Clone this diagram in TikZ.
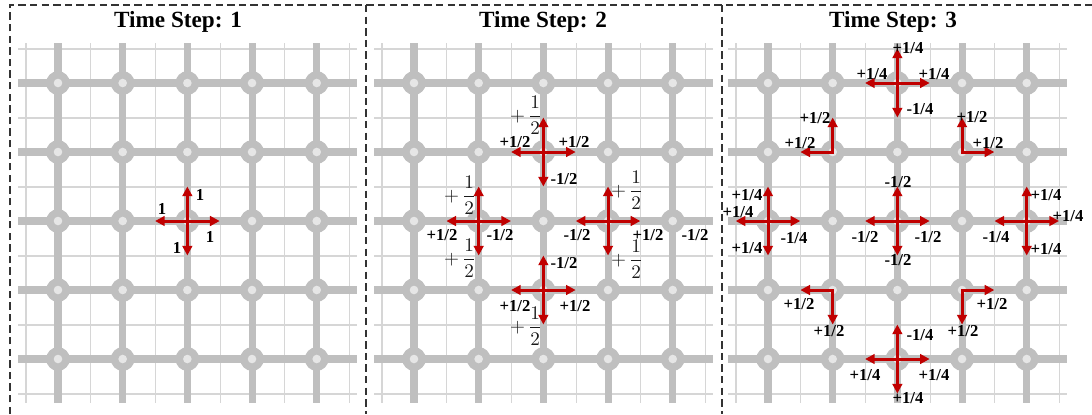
\documentclass[tikz,border=0pt]{standalone}
\usepackage{amsmath}
\usepackage{fontspec}
\setmainfont{Liberation Serif}
\usepackage{xcolor}
\usepackage{tikz}
\usetikzlibrary{arrows.meta,calc}

\definecolor{gridgray}{HTML}{BFBFBF}
\definecolor{finegray}{HTML}{D6D6D6}
\definecolor{dotgray}{HTML}{E6E6E6}
\definecolor{flowred}{HTML}{C00000}
\definecolor{fracgray}{HTML}{1A1A1A}

\newcommand{\halfx}{32.3}
\newcommand{\halfy}{34.5}

\tikzset{
  fine line/.style={finegray, line width=0.6pt},
  bold line/.style={gridgray, line width=4pt},
  junc/.style={circle, fill=gridgray, minimum size=13.5pt, inner sep=0pt,
    path picture={\fill[dotgray] (path picture bounding box.center) circle (2.45pt);}},
  flow/.style={flowred, line width=1.7pt, -{Triangle[length=5.5pt,width=5.5pt]}},
  flowtwo/.style={flowred, line width=1.7pt,
    {Triangle[length=5.5pt,width=5.5pt]}-{Triangle[length=5.5pt,width=5.5pt]}},
  lbl/.style={inner sep=0pt, font=\fontsize{9.5}{11}\selectfont\bfseries},
  fraclbl/.style={inner sep=0pt, text=fracgray, font=\fontsize{10.5}{12}\selectfont},
  title/.style={inner sep=0pt, font=\fontsize{13.2}{16}\selectfont\bfseries},
  frame/.style={black!80, line width=0.6pt, dash pattern=on 4.2pt off 2.4pt}
}

% lattice of one panel, junctions named #1<col><row>
\newcommand{\panelgrid}[1]{%
  \foreach \k in {0,...,10} {
    \draw[fine line] ({26+\k*32.34},43) -- ({26+\k*32.34},403);
    \draw[fine line] (18,{49+\k*34.5}) -- (357,{49+\k*34.5});
  }
  \foreach \k in {0,...,4} {
    \draw[bold line] ({58+\k*64.68},43) -- ({58+\k*64.68},403);
    \draw[bold line] (18,{83+\k*69}) -- (357,{83+\k*69});
  }
  \foreach \c in {1,...,5}
    \foreach \r in {1,...,5}
      \node[junc] (#1\c\r) at ({58+(\c-1)*64.68},{83+(\r-1)*69}) {};
}

% four arrows out of one junction
\newcommand{\spread}[1]{%
  \draw[flow] (#1.center) -- ++(0,-\halfy);
  \draw[flow] (#1.center) -- ++(0,\halfy);
  \draw[flow] (#1.center) -- ++(-\halfx,0);
  \draw[flow] (#1.center) -- ++(\halfx,0);
}

\begin{document}
\begin{tikzpicture}[x=0.02cm, y=-0.02cm]
  \useasboundingbox (0,0) rectangle (1092,414);
  % panel frames
  \draw[frame] (10,414) -- (10,5) -- (1092,5);
  \draw[frame] (366,5) -- (366,414);
  \draw[frame] (722,5) -- (722,414);

  % Time step 1
  \begin{scope}
    \panelgrid{a}
    \node[title] (t1) at (178,22) {Time Step: 1};
    \spread{a33}
    \node[lbl] (a1) at (200,195) {1};
    \node[lbl] (a2) at (162,209) {1};
    \node[lbl] (a3) at (210,237) {1};
    \node[lbl] (a4) at (177,248) {1};
  \end{scope}

  % Time step 2
  \begin{scope}[shift={(356,0)}]
    \panelgrid{b}
    \node[title] (t2) at (187,22) {Time Step: 2};
    \spread{b32}
    \spread{b23}
    \spread{b43}
    \spread{b34}
    % top
    \node[fraclbl] (b1) at (170,115) {$+\,\dfrac{1}{2}$};
    \node[lbl] (b2) at (159,142) {+1/2};
    \node[lbl] (b3) at (218,142) {+1/2};
    \node[lbl] (b4) at (208,179) {-1/2};
    % left
    \node[fraclbl] (b5) at (104,195) {$+\,\dfrac{1}{2}$};
    \node[lbl] (b6) at (86,235) {+1/2};
    \node[lbl] (b7) at (144,235) {-1/2};
    \node[fraclbl] (b8) at (104,258) {$+\,\dfrac{1}{2}$};
    % right
    \node[fraclbl] (b9) at (271,190) {$+\,\dfrac{1}{2}$};
    \node[lbl] (b10) at (221,235) {-1/2};
    \node[lbl] (b11) at (292,235) {+1/2};
    \node[fraclbl] (b12) at (271,259) {$+\,\dfrac{1}{2}$};
    \node[lbl] (b13) at (339,235) {-1/2};
    % bottom
    \node[lbl] (b14) at (208,263) {-1/2};
    \node[lbl] (b15) at (159,306) {+1/2};
    \node[lbl] (b16) at (219,306) {+1/2};
    \node[fraclbl] (b17) at (170,326) {$+\,\dfrac{1}{2}$};
  \end{scope}

  % Time step 3
  \begin{scope}[shift={(710,0)}]
    \panelgrid{c}
    \node[title] (t3) at (183,22) {Time Step: 3};
    \spread{c31}
    \spread{c13}
    \spread{c33}
    \spread{c53}
    \spread{c35}
    \draw[flowtwo] ($(c22)+(-\halfx,0)$) -- (c22.center) -- ($(c22)+(0,-\halfy)$);
    \draw[flowtwo] ($(c42)+(0,-\halfy)$) -- (c42.center) -- ($(c42)+(\halfx,0)$);
    \draw[flowtwo] ($(c24)+(-\halfx,0)$) -- (c24.center) -- ($(c24)+(0,\halfy)$);
    \draw[flowtwo] ($(c44)+(\halfx,0)$) -- (c44.center) -- ($(c44)+(0,\halfy)$);
    % top
    \node[lbl] (c1) at (198,48) {+1/4};
    \node[lbl] (c2) at (162,74) {+1/4};
    \node[lbl] (c3) at (224,74) {+1/4};
    \node[lbl] (c4) at (210,109) {-1/4};
    % corners above
    \node[lbl] (c5) at (105,118) {+1/2};
    \node[lbl] (c6) at (90,143) {+1/2};
    \node[lbl] (c7) at (262,117) {+1/2};
    \node[lbl] (c8) at (278,143) {+1/2};
    % left
    \node[lbl] (c9) at (37,195) {+1/4};
    \node[lbl] (c10) at (28,212) {+1/4};
    \node[lbl] (c11) at (84,238) {-1/4};
    \node[lbl] (c12) at (37,248) {+1/4};
    % middle
    \node[lbl] (c13) at (188,182) {-1/2};
    \node[lbl] (c14) at (155,237) {-1/2};
    \node[lbl] (c15) at (218,237) {-1/2};
    \node[lbl] (c16) at (188,260) {-1/2};
    % right
    \node[lbl] (c17) at (336,195) {+1/4};
    \node[lbl] (c18) at (358,216) {+1/4};
    \node[lbl] (c19) at (286,237) {-1/4};
    \node[lbl] (c20) at (336,249) {+1/4};
    % corners below
    \node[lbl] (c21) at (89,304) {+1/2};
    \node[lbl] (c22l) at (119,331) {+1/2};
    \node[lbl] (c23) at (282,304) {+1/2};
    \node[lbl] (c24l) at (253,331) {+1/2};
    % bottom
    \node[lbl] (c25) at (210,335) {-1/4};
    \node[lbl] (c26) at (155,375) {+1/4};
    \node[lbl] (c27) at (224,375) {+1/4};
    \node[lbl] (c28) at (198,398) {+1/4};
  \end{scope}
\end{tikzpicture}
\end{document}
